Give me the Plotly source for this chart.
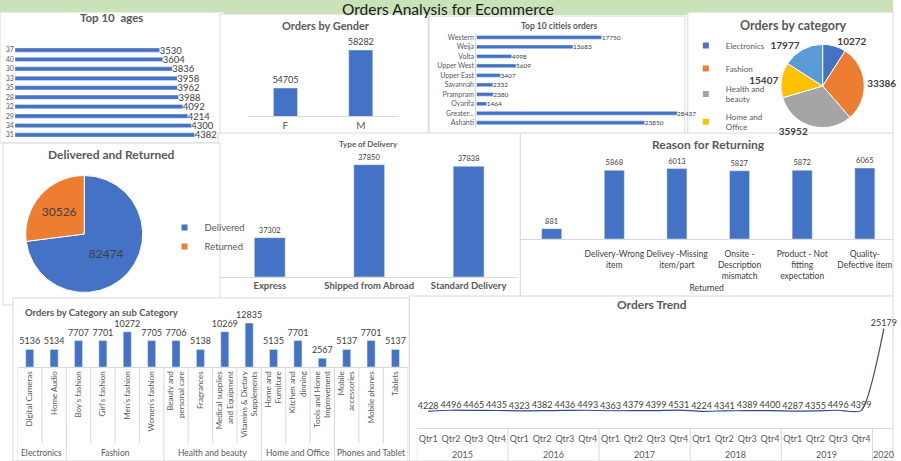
import plotly.graph_objects as go

W, H = 901, 461
def X(px): return px / W
def Y(py): return 1 - py / H
def xd(a, b): return [max(0, a / W), min(1, b / W)]
def yd(top, bottom): return [max(0, 1 - bottom / H), min(1, 1 - top / H)]

BLUE = "#4472C4"
GRAY_TXT = "#595959"
DARK_TXT = "#404040"
BORDER = "#D9D9D9"
FONT = "Lato"

# ---------------- data ----------------
age_labels = ["31", "34", "29", "32", "28", "35", "33", "30", "40", "37"]
age_values = [4382, 4300, 4214, 4092, 3988, 3962, 3958, 3836, 3604, 3530]

gender_labels = ["F", "M"]
gender_values = [54705, 58282]

city_labels = ["Ashanti", "Greater...", "Oyarifa", "Prampram", "Savannah",
               "Upper East", "Upper West", "Volta", "Weija", "Western"]
city_values = [23850, 28437, 1464, 2380, 2332, 3407, 5609, 4998, 13683, 17750]

category_labels = ["Electronics", "Fashion", "Health and<br>beauty",
                   "Home and<br>Office", "Phones and<br>Tablets"]
category_values = [10272, 33386, 35952, 15407, 17977]
category_colors = ["#4472C4", "#ED7D31", "#A5A5A5", "#FFC000", "#5B9BD5"]
category_legend_shown = 4   # the reference panel only shows the first four entries

status_labels = ["Delivered", "Returned"]
status_values = [82474, 30526]
status_colors = ["#4472C4", "#ED7D31"]

delivery_labels = ["Express", "Shipped from Abroad", "Standard Delivery"]
delivery_values = [37302, 37850, 37838]

reason_labels = ["", "Delivery-Wrong<br>item", "Delivey -Missing<br>item/part",
                 "Onsite -<br>Description<br>mismatch",
                 "Product - Not<br>fitting<br>expectation",
                 "Quality-<br>Defective item"]
reason_values = [881, 5868, 6013, 5827, 5872, 6065]
reason_group = "Returned"

sub_groups = ["Electronics", "Electronics",
              "Fashion", "Fashion", "Fashion", "Fashion",
              "Health and beauty", "Health and beauty", "Health and beauty", "Health and beauty",
              "Home and Office", "Home and Office", "Home and Office",
              "Phones and Tablet", "Phones and Tablet", "Phones and Tablet"]
sub_labels = ["Digital Cameras", "Home Audio", "Boy's fashion", "Girl's fashion",
              "Men's fashion", "Women's fashion", "Beauty and<br>personal care",
              "Fragrances", "Medical supplies<br>and Equipment",
              "Vitamins & Dietary<br>Supplements", "Home and<br>Furniture",
              "Kitchen and<br>dinning", "Tools and Home<br>Improvement",
              "Mobile<br>accessories", "Mobile phones", "Tablets"]
sub_values = [5136, 5134, 7707, 7701, 10272, 7705, 7706, 5138, 10269, 12835,
              5135, 7701, 2567, 5137, 7701, 5137]

trend_years = ["2015"] * 4 + ["2016"] * 4 + ["2017"] * 4 + ["2018"] * 4 + ["2019"] * 4 + ["2020"]
trend_quarters = ["Qtr1", "Qtr2", "Qtr3", "Qtr4"] * 5 + [""]
trend_values = [4228, 4496, 4465, 4435, 4323, 4382, 4436, 4493, 4363, 4379, 4399, 4531,
                4224, 4341, 4389, 4400, 4287, 4355, 4496, 4399, 25179]

# ---------------- figure ----------------
fig = go.Figure()

def bar(**kw):
    base = dict(marker_color=BLUE, textposition="outside", constraintext="none",
                showlegend=False, hoverinfo="skip")
    base.update(kw)
    fig.add_trace(go.Bar(**base))

# 1 Top 10 ages
bar(x=age_values, y=age_labels, orientation="h", width=0.45, text=age_values,
    cliponaxis=False, textfont=dict(size=9.5, color=DARK_TXT), xaxis="x", yaxis="y")
# 2 Gender
bar(x=gender_labels, y=gender_values, width=0.32, text=gender_values,
    textfont=dict(size=9, color=DARK_TXT), xaxis="x2", yaxis="y2")
# 3 Cities
bar(x=city_values, y=city_labels, orientation="h", width=0.4, text=city_values,
    cliponaxis=False, textfont=dict(size=6.5, color=DARK_TXT), xaxis="x3", yaxis="y3")
# 4 Type of delivery
bar(x=delivery_labels, y=delivery_values, width=0.31, text=delivery_values,
    textfont=dict(size=7.5, color=DARK_TXT), xaxis="x4", yaxis="y4")
# 5 Reason for returning
bar(x=list(range(len(reason_values))), y=reason_values, width=0.32, text=reason_values,
    cliponaxis=False, textfont=dict(size=7.5, color=DARK_TXT), xaxis="x5", yaxis="y5")
# 6 Sub category
bar(x=list(range(len(sub_values))), y=sub_values, width=0.33, text=sub_values,
    cliponaxis=False, textfont=dict(size=9, color=DARK_TXT), xaxis="x6", yaxis="y6")
# 7 Trend
fig.add_trace(go.Scatter(x=list(range(len(trend_values))), y=trend_values, mode="lines+text",
                         line=dict(color="#2F4B8A", width=1.2, shape="spline", smoothing=0.6),
                         text=trend_values, textposition="top center", cliponaxis=False,
                         textfont=dict(size=9, color=DARK_TXT), xaxis="x7", yaxis="y7",
                         showlegend=False, hoverinfo="skip"))
# Pie: category
fig.add_trace(go.Pie(labels=category_labels, values=category_values, sort=False,
                     direction="clockwise", marker=dict(colors=category_colors,
                     line=dict(color="white", width=1)),
                     texttemplate="%{value:d}", textposition="outside",
                     textfont=dict(size=10, color=DARK_TXT, weight="bold"),
                     domain=dict(x=xd(788, 872), y=yd(44, 128)), showlegend=False,
                     hoverinfo="skip"))
# Pie: delivered / returned
fig.add_trace(go.Pie(labels=status_labels, values=status_values, sort=False,
                     direction="clockwise", marker=dict(colors=status_colors,
                     line=dict(color="white", width=1)),
                     texttemplate="%{value:d}", textposition="inside",
                     insidetextorientation="horizontal",
                     textfont=dict(size=12, color=DARK_TXT),
                     domain=dict(x=xd(26, 144), y=yd(175, 293)), showlegend=False,
                     hoverinfo="skip"))

# legend entries (small square keys, like the reference)
for lab, col in zip(status_labels, status_colors):
    fig.add_trace(go.Scatter(x=[None], y=[None], mode="markers", name=lab,
                             marker=dict(symbol="square", size=6, color=col),
                             legend="legend", legendgroup=lab, xaxis="x", yaxis="y",
                             hoverinfo="skip"))
for lab, col in list(zip(category_labels, category_colors))[:category_legend_shown]:
    fig.add_trace(go.Scatter(x=[None], y=[None], mode="markers", name=lab,
                             marker=dict(symbol="square", size=6, color=col),
                             legend="legend2", legendgroup=lab, xaxis="x", yaxis="y",
                             hoverinfo="skip"))

hidden = dict(showticklabels=False, showgrid=False, zeroline=False, showline=False, ticks="")

layout = dict(
    width=W, height=H, margin=dict(l=0, r=0, t=0, b=0), autosize=False,
    paper_bgcolor="white", plot_bgcolor="rgba(0,0,0,0)",
    font=dict(family=FONT, color=GRAY_TXT),
    xaxis=dict(domain=xd(15, 222), range=[0, 5000], **hidden),
    yaxis=dict(domain=yd(45.3, 139.7), type="category", showgrid=False, zeroline=False,
               ticks="", tickfont=dict(size=7, color=GRAY_TXT), anchor="x"),
    xaxis2=dict(domain=xd(250, 402), type="category", showgrid=False, zeroline=False,
                showline=True, linecolor=BORDER, ticks="", tickfont=dict(size=10, color=GRAY_TXT),
                anchor="y2"),
    yaxis2=dict(domain=yd(30, 116), range=[52069, 60165], anchor="x2", **hidden),
    xaxis3=dict(domain=xd(480.7, 690), range=[0, 29400], anchor="y3", **hidden),
    yaxis3=dict(domain=yd(32.6, 127.5), type="category", showgrid=False, zeroline=False,
                showline=True, linecolor=BORDER, ticks="",
                tickfont=dict(size=7, color=GRAY_TXT), anchor="x3"),
    xaxis4=dict(domain=xd(222, 523), type="category", showgrid=False, zeroline=False,
                showline=True, linecolor=BORDER, ticks="",
                tickfont=dict(size=9.5, color=GRAY_TXT, weight="bold"), anchor="y4"),
    yaxis4=dict(domain=yd(145, 276.7), range=[37009, 37998], anchor="x4", **hidden),
    xaxis5=dict(domain=xd(525, 901), range=[-0.5, 5.45], tickvals=list(range(len(reason_labels))),
                ticktext=reason_labels, tickangle=0, showgrid=False, zeroline=False,
                showline=True, linecolor=BORDER, ticks="", ticklabelstandoff=7,
                tickfont=dict(size=8.5, color=DARK_TXT),
                title=dict(text=reason_group, font=dict(size=8.5, color=DARK_TXT),
                           standoff=4),
                anchor="y5"),
    yaxis5=dict(domain=yd(160, 239), range=[0, 6747], anchor="x5", **hidden),
    xaxis6=dict(domain=xd(17.7, 411.3), range=[-0.5, 15.5], tickvals=list(range(len(sub_labels))),
                ticktext=sub_labels, tickangle=-90, showgrid=False, zeroline=False,
                showline=True, linecolor=BORDER, ticks="",
                tickfont=dict(size=8, color=GRAY_TXT), anchor="y6"),
    yaxis6=dict(domain=yd(318, 367), range=[0, 14300], anchor="x6", **hidden),
    xaxis7=dict(domain=xd(420.5, 901), range=[-0.5, 20.4],
                tickvals=list(range(len(trend_quarters))), ticktext=trend_quarters,
                tickangle=0, showgrid=False, zeroline=False, showline=True, linecolor=BORDER,
                ticks="", ticklabelstandoff=2, tickfont=dict(size=9, color=GRAY_TXT), anchor="y7"),
    yaxis7=dict(domain=yd(315, 428), range=[0, 28600], anchor="x7", **hidden),
    legend=dict(x=X(166), y=Y(213), xanchor="left", yanchor="top",
                font=dict(size=9.5, color=GRAY_TXT), bgcolor="rgba(0,0,0,0)",
                traceorder="grouped", tracegroupgap=0, itemwidth=30),
    legend2=dict(x=X(692), y=Y(31), xanchor="left", yanchor="top",
                 font=dict(size=8, color=GRAY_TXT), bgcolor="rgba(0,0,0,0)",
                 traceorder="grouped", tracegroupgap=4, itemwidth=30),
)
fig.update_layout(**layout)

# ---------------- panels & decoration ----------------
shapes = []
shapes.append(dict(type="rect", xref="paper", yref="paper", x0=0, x1=1, y0=Y(15), y1=1,
                   fillcolor="#C9E2B8", line=dict(width=0), layer="below"))
panels = [
    (0, 12, 227, 143), (222, 14, 432, 136), (433, 16, 691, 136), (694, 12, 901, 135),
    (220, 133, 525, 300), (525, 133, 901, 297), (3, 143, 222, 305),
    (13, 298, 413, 461), (413, 296, 901, 461),
]
for (a, t, b, bt) in panels:
    shapes.append(dict(type="rect", xref="paper", yref="paper", x0=X(a), x1=X(b),
                       y0=Y(bt), y1=Y(t), fillcolor="white",
                       line=dict(color=BORDER, width=1), layer="below"))

n = len(sub_labels)
for i in range(n + 1):
    boundary = i == 0 or i == n or sub_groups[i] != sub_groups[i - 1]
    shapes.append(dict(type="line", xref="x6", yref="paper", x0=i - 0.5, x1=i - 0.5,
                       y0=Y(367), y1=Y(461) if boundary else Y(443),
                       line=dict(color=BORDER, width=1)))
m = len(trend_years)
for i in range(m):
    if i == 0 or trend_years[i] != trend_years[i - 1]:
        shapes.append(dict(type="line", xref="x7", yref="paper", x0=i - 0.5, x1=i - 0.5,
                           y0=Y(428), y1=Y(461), line=dict(color=BORDER, width=1)))

annotations = []
annotations.append(dict(text="Orders Analysis for Ecommerce", x=X(452), y=Y(9), xref="paper",
                        yref="paper", showarrow=False, xanchor="center", yanchor="middle",
                        font=dict(size=15.5, color="#1A1A1A")))
titles = [
    ("Top 10  ages", 113, 17, 11.5),
    ("Orders by Gender", 329, 25, 11),
    ("Top 10 citieis orders", 564, 26, 8.5),
    ("Orders by category", 801, 25, 12.5),
    ("Delivered and Returned", 112, 154, 12),
    ("Type of Delivery", 372, 143.5, 8),
    ("Reason for Returning", 715, 144, 12),
    ("Orders Trend", 658, 304, 12),
]
for (t, x, y, s) in titles:
    annotations.append(dict(text=t, x=X(x), y=Y(y), xref="paper", yref="paper",
                            showarrow=False, xanchor="center", yanchor="middle",
                            font=dict(size=s, color=GRAY_TXT, weight="bold")))
annotations.append(dict(text="Orders by Category an sub Category", x=X(23), y=Y(312.5),
                        xref="paper", yref="paper", showarrow=False, xanchor="left",
                        yanchor="middle", font=dict(size=9.5, color=GRAY_TXT, weight="bold")))

start = 0
for i in range(1, n + 1):
    if i == n or sub_groups[i] != sub_groups[start]:
        annotations.append(dict(text=sub_groups[start], x=(start + i - 1) / 2, y=Y(453),
                                xref="x6", yref="paper", showarrow=False, xanchor="center",
                                yanchor="middle", font=dict(size=8.5, color=GRAY_TXT)))
        start = i
start = 0
for i in range(1, m + 1):
    if i == m or trend_years[i] != trend_years[start]:
        annotations.append(dict(text=trend_years[start], x=(start + i - 1) / 2, y=Y(454),
                                xref="x7", yref="paper", showarrow=False, xanchor="center",
                                yanchor="middle", font=dict(size=9, color=GRAY_TXT)))
        start = i

fig.update_layout(shapes=shapes, annotations=annotations)
fig.write_html("out.html", config={"displayModeBar": False},
               post_script="document.body.style.margin='0';")
